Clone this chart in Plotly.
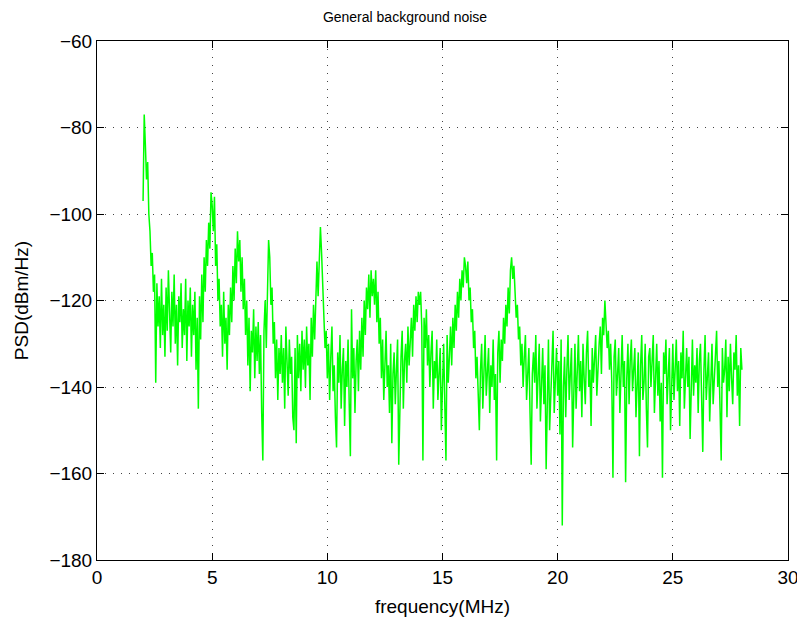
import plotly.graph_objects as go

f_start = 2.0
f_step = 0.05

psd_rows = [
    [-97, -77, -84, -92, -88, -100, -104, -112, -109, -118, -114, -139, -116, -126, -119, -131, -115, -128, -121, -133],
    [-117, -127, -113, -124, -132, -118, -126, -114, -130, -121, -135, -119, -125, -116, -131, -122, -128, -115, -134, -120],
    [-126, -117, -133, -121, -128, -118, -136, -124, -145, -119, -129, -114, -125, -110, -118, -106, -112, -102, -108, -95],
    [-98, -104, -96, -112, -107, -120, -115, -126, -121, -133, -118, -130, -124, -136, -121, -128, -117, -125, -112, -120],
    [-108, -116, -104, -111, -106, -118, -110, -122, -115, -128, -120, -135, -124, -141, -127, -132, -122, -138, -126, -134],
    [-125, -137, -128, -146, -157, -127, -120, -131, -114, -106, -110, -121, -117, -130, -125, -138, -129, -143, -131, -137],
    [-128, -139, -131, -145, -126, -136, -142, -129, -137, -133, -147, -150, -131, -153, -128, -138, -130, -141, -127, -136],
    [-129, -140, -126, -135, -130, -143, -124, -133, -121, -129, -116, -111, -119, -108, -103, -109, -116, -124, -131, -127],
    [-138, -130, -143, -133, -126, -141, -135, -147, -154, -132, -139, -128, -145, -136, -131, -149, -134, -140, -129, -144],
    [-156, -122, -138, -131, -146, -134, -129, -141, -127, -136, -124, -133, -120, -128, -117, -122, -114, -124, -113, -119],
    [-115, -121, -113, -125, -118, -130, -124, -138, -129, -143, -133, -127, -140, -135, -146, -130, -153, -137, -132, -144],
    [-136, -129, -158, -141, -133, -127, -145, -134, -130, -139, -126, -135, -129, -124, -133, -121, -127, -119, -125, -118],
    [-121, -118, -126, -157, -124, -131, -122, -135, -128, -140, -132, -127, -145, -134, -138, -129, -143, -136, -131, -150],
    [-137, -130, -144, -157, -128, -139, -133, -126, -135, -124, -131, -121, -127, -118, -124, -115, -120, -113, -117, -110],
    [-112, -116, -111, -120, -117, -125, -122, -131, -127, -138, -133, -141, -150, -136, -130, -145, -134, -128, -142, -137],
    [-131, -146, -135, -140, -129, -143, -137, -157, -132, -127, -139, -129, -134, -124, -130, -121, -126, -117, -123, -113],
    [-110, -115, -112, -118, -124, -121, -129, -126, -135, -130, -140, -133, -128, -143, -136, -131, -146, -158, -137, -132],
    [-139, -128, -145, -134, -130, -148, -137, -131, -144, -135, -159, -138, -129, -150, -141, -133, -127, -146, -136, -131],
    [-142, -134, -151, -129, -172, -140, -133, -147, -136, -128, -143, -137, -131, -154, -139, -130, -145, -135, -128, -141],
    [-134, -147, -130, -138, -144, -132, -127, -140, -136, -149, -131, -139, -133, -128, -142, -135, -130, -126, -137, -124],
    [-128, -120, -125, -131, -127, -136, -130, -139, -161, -133, -129, -142, -137, -131, -146, -135, -128, -140, -134, -162],
    [-138, -130, -144, -134, -129, -141, -136, -131, -147, -137, -132, -156, -135, -128, -143, -139, -130, -145, -154, -133],
    [-131, -140, -135, -128, -146, -136, -130, -142, -134, -148, -139, -161, -132, -137, -129, -144, -135, -131, -150, -138],
    [-130, -143, -136, -129, -141, -134, -149, -132, -138, -127, -145, -136, -131, -140, -133, -152, -137, -129, -142, -135],
    [-139, -131, -146, -134, -130, -141, -155, -136, -128, -143, -137, -132, -148, -135, -130, -144, -138, -133, -127, -140],
    [-134, -145, -157, -131, -139, -136, -129, -147, -133, -141, -130, -138, -144, -132, -136, -128, -142, -135, -149, -131],
    [-136],
]

x_ticks = [0, 5, 10, 15, 20, 25, 30]
y_ticks = [-180, -160, -140, -120, -100, -80, -60]

psd = [v for row in psd_rows for v in row]
freq = [round(f_start + i * f_step, 4) for i in range(len(psd))]

fig = go.Figure()
fig.add_trace(go.Scatter(x=freq, y=psd, mode="lines",
                         line=dict(color="#00ff00", width=1.5),
                         showlegend=False))

font_family = "Liberation Sans, Arial, sans-serif"
axis_common = dict(
    showline=True, linecolor="black", linewidth=1, mirror="allticks",
    ticks="inside", ticklen=7, tickcolor="black",
    showgrid=True, gridcolor="#444444", griddash="1px,7px", gridwidth=1,
    zeroline=False, automargin=False,
    tickfont=dict(size=19, color="black", family=font_family),
)

# the page body adds an 8px offset; size the figure to fill the rest
W, H = 797, 612
fig.update_layout(
    width=W, height=H,
    margin=dict(l=89, r=17, t=33, b=60),
    paper_bgcolor="white", plot_bgcolor="white",
    title=dict(text="General background noise", x=(323 - 8 + 82) / W, xanchor="center",
               y=1 - 9 / H, yanchor="middle",
               font=dict(size=14, color="black", family=font_family)),
    xaxis=dict(range=[0, 30], tickvals=x_ticks,
               title=dict(text="frequency(MHz)", standoff=12,
                          font=dict(size=19, color="black", family=font_family)),
               **axis_common),
    yaxis=dict(range=[-180, -60], tickvals=y_ticks,
               title=dict(text="PSD(dBm/Hz)", standoff=15,
                          font=dict(size=19, color="black", family=font_family)),
               **axis_common),
)

fig.write_html("out.html")
